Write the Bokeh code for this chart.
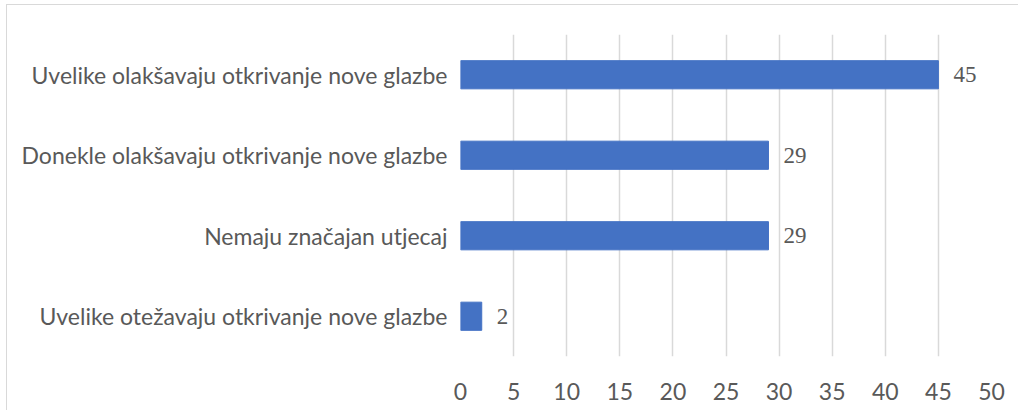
from bokeh.plotting import figure
from bokeh.models import ColumnDataSource, Range1d, FixedTicker, LabelSet
from bokeh.embed import file_html
from bokeh.resources import INLINE

categories = [
    "Uvelike olakšavaju otkrivanje nove glazbe",
    "Donekle olakšavaju otkrivanje nove glazbe",
    "Nemaju značajan utjecaj",
    "Uvelike otežavaju otkrivanje nove glazbe",
]
values = [45, 29, 29, 2]
x_ticks = [0, 5, 10, 15, 20, 25, 30, 35, 40, 45, 50]

FONT = "Lato"
TEXT = "#595959"
FS = "23px"

src = ColumnDataSource(dict(cat=categories, val=values, lab=[str(v) for v in values]))

p = figure(
    width=1012, height=406,
    y_range=list(reversed(categories)),
    x_range=Range1d(0, 50),
    output_backend="svg", toolbar_location=None,
    min_border_left=453, min_border_right=28,
    min_border_top=29, min_border_bottom=55,
)
p.margin = (4, 0, 0, 6)
p.outline_line_color = None
p.background_fill_color = "white"

p.hbar(y="cat", right="val", left=0, height=0.35, source=src,
       fill_color="#4472C4", line_color="#4472C4")

labels = LabelSet(x="val", y="cat", text="lab", source=src, x_offset=15,
                  text_baseline="middle", text_align="left",
                  text_font_size=FS, text_color=TEXT, text_font=FONT)
p.add_layout(labels)

p.xaxis.ticker = FixedTicker(ticks=x_ticks)
p.xaxis.axis_line_color = None
p.xaxis.major_tick_line_color = None
p.xaxis.minor_tick_line_color = None
p.xaxis.major_tick_out = 0
p.xaxis.major_tick_in = 0
p.xaxis.major_label_standoff = 26
p.xaxis.major_label_text_font_size = FS
p.xaxis.major_label_text_color = TEXT
p.xaxis.major_label_text_font = FONT

p.yaxis.axis_line_color = None
p.yaxis.major_tick_line_color = None
p.yaxis.major_tick_out = 0
p.yaxis.major_tick_in = 0
p.yaxis.major_label_standoff = 13
p.yaxis.major_label_text_font_size = FS
p.yaxis.major_label_text_color = TEXT
p.yaxis.major_label_text_font = FONT

p.xgrid.grid_line_color = "#d9d9d9"
p.xgrid.grid_line_width = 1.5
p.ygrid.grid_line_color = None

p.styles = {"border-top": "1px solid #d9d9d9", "border-left": "1px solid #d9d9d9"}

open("out.html", "w").write(file_html(p, INLINE))
